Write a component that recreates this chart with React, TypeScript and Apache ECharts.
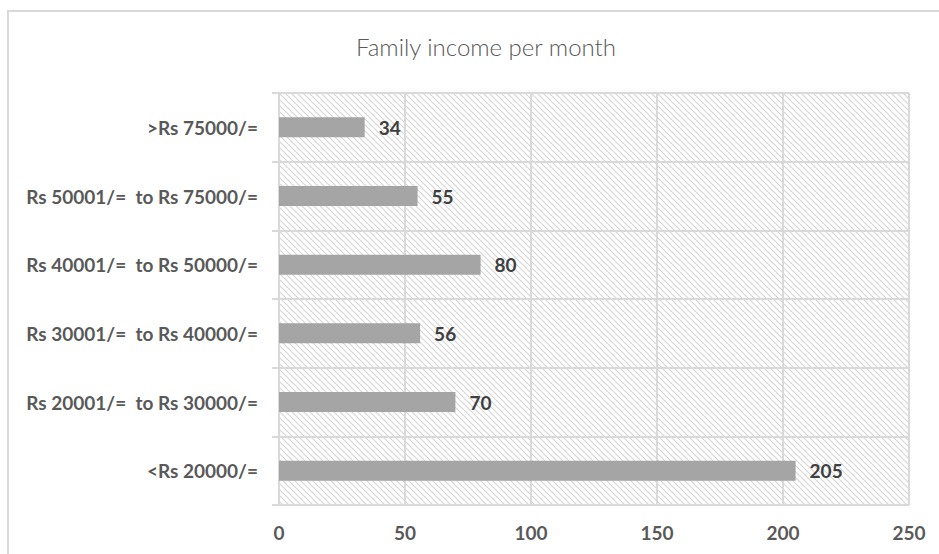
import React, { useEffect, useRef } from "react";
import * as echarts from "echarts";

const categories = [
  "<Rs 20000/=",
  "Rs 20001/=  to Rs 30000/=",
  "Rs 30001/=  to Rs 40000/=",
  "Rs 40001/=  to Rs 50000/=",
  "Rs 50001/=  to Rs 75000/=",
  ">Rs 75000/=",
];
const values = [205, 70, 56, 80, 55, 34];
const xTicks = [0, 50, 100, 150, 200, 250];
const title = "Family income per month";

function makeHatch(): HTMLCanvasElement {
  const c = document.createElement("canvas");
  const s = 6;
  c.width = s;
  c.height = s;
  const ctx = c.getContext("2d")!;
  ctx.fillStyle = "#ffffff";
  ctx.fillRect(0, 0, s, s);
  ctx.strokeStyle = "#d6d6d6";
  ctx.lineWidth = 1.2;
  ctx.beginPath();
  ctx.moveTo(-1, -1);
  ctx.lineTo(s + 1, s + 1);
  ctx.moveTo(-1, s - 1);
  ctx.lineTo(1, s + 1);
  ctx.moveTo(s - 1, -1);
  ctx.lineTo(s + 1, 1);
  ctx.stroke();
  return c;
}

export default function App() {
  const ref = useRef<HTMLDivElement>(null);
  useEffect(() => {
    if (!ref.current) return;
    const chart = echarts.init(ref.current, undefined, { renderer: "svg" });
    const font = "Lato, 'Open Sans', sans-serif";
    chart.setOption({
      animation: false,
      backgroundColor: "#ffffff",
      title: {
        text: title,
        left: 481,
        top: 29,
        textAlign: "center",
        textStyle: { fontFamily: font, fontSize: 24, fontWeight: 300, color: "#595959" },
      },
      graphic: [
        {
          type: "rect",
          shape: { x: 8, y: 11, width: 1000, height: 1000 },
          style: { fill: "none", stroke: "#d9d9d9", lineWidth: 2 },
          silent: true,
          z: -1,
        },
      ],
      grid: {
        left: 279,
        right: 30,
        top: 93,
        bottom: 49,
        show: true,
        borderWidth: 0,
        backgroundColor: { image: makeHatch(), repeat: "repeat" } as any,
      },
      xAxis: {
        type: "value",
        min: 0,
        max: 250,
        interval: 50,
        axisLine: { show: false },
        axisTick: { show: false },
        splitLine: { show: true, lineStyle: { color: "#d9d9d9", width: 2 } },
        axisLabel: {
          fontFamily: font,
          fontSize: 19,
          fontWeight: "bold",
          color: "#595959",
          margin: 18,
          formatter: (v: number) => (xTicks.includes(v) ? String(v) : ""),
        },
      },
      yAxis: {
        type: "category",
        data: categories,
        axisLine: { show: true, lineStyle: { color: "#d9d9d9", width: 2 } },
        axisTick: { show: true, length: 7, lineStyle: { color: "#d9d9d9", width: 2 } },
        splitLine: { show: true, lineStyle: { color: "#d9d9d9", width: 2 } },
        axisLabel: {
          fontFamily: font,
          fontSize: 19,
          fontWeight: "bold",
          color: "#595959",
          margin: 21,
        },
      },
      series: [
        {
          type: "bar",
          data: values,
          barWidth: 20,
          itemStyle: { color: "#a5a5a5" },
          label: {
            show: true,
            position: "right",
            distance: 14,
            fontFamily: font,
            fontSize: 19,
            fontWeight: "bold",
            color: "#404040",
          },
        },
      ],
    });
    return () => chart.dispose();
  }, []);
  return (
    <div
      ref={ref}
      style={{ position: "fixed", left: 0, top: 0, width: 939, height: 554 }}
    />
  );
}
